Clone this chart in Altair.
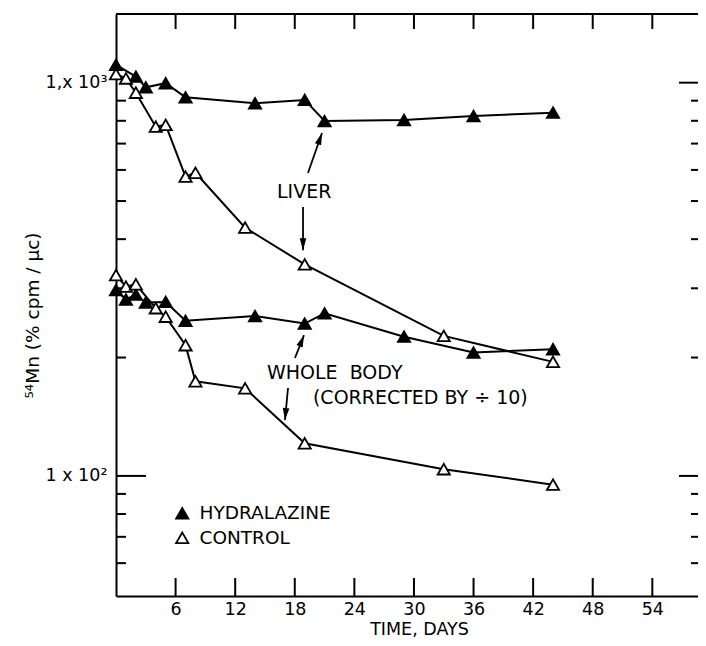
import math
import altair as alt
import pandas as pd

# ---------------- data ----------------
# Liver, hydralazine (filled triangles)
liver_h_days = [0, 2, 3, 5, 7, 14, 19, 21, 29, 36, 44]
liver_h_vals = [1110, 1036, 973, 997, 918, 886, 904, 799, 804, 823, 839]
# Liver, control (open triangles)
liver_c_days = [0, 1, 2, 4, 5, 7, 8, 13, 19, 33, 44]
liver_c_vals = [1052, 1025, 943, 773, 781, 577, 590, 428, 345, 227, 195]
# Whole body (corrected by /10), hydralazine
wb_h_days = [0, 1, 2, 3, 5, 7, 14, 19, 21, 29, 36, 44]
wb_h_vals = [297, 281, 289, 276, 277, 248, 255, 244, 259, 226, 206, 210]
# Whole body (corrected by /10), control
wb_c_days = [0, 1, 2, 4, 5, 7, 8, 13, 19, 33, 44]
wb_c_vals = [324, 303, 307, 267, 254, 215, 174, 167, 121, 104, 95]

GROUPS = ["HYDRALAZINE", "CONTROL"]

x_tick_vals = [6, 12, 18, 24, 30, 36, 42, 48, 54]
y_minor_vals = [60, 70, 80, 90, 200, 300, 400, 500, 600, 700, 800, 900]
y_major_vals = [100, 1000]
y_left_major_vals = [100]

# annotations (data coordinates)
ann_text = ["LIVER", "WHOLE\u00a0\u00a0BODY", "(CORRECTED BY \u00f7 10)"]
ann_day = [16.21, 15.2, 19.83]
ann_val = [527, 182.6, 157.8]

arr_tail_day = [19.33, 18.83, 18.02, 17.32]
arr_tail_val = [589, 483, 199.5, 167.3]
arr_head_day = [20.74, 18.83, 18.93, 17.01]
arr_head_val = [745, 375, 228, 138.7]

# ---------------- layout ----------------
W, H = 582, 582
X_DOM = [0, 58.6]
Y_DOM = [49.5, 1495]
FONT = "DejaVu Sans"

xs = alt.Scale(domain=X_DOM, nice=False, zero=False)
ys = alt.Scale(type="log", domain=Y_DOM, nice=False)

AX_X = alt.Axis(
    values=x_tick_vals, title="TIME, DAYS", ticks=False, grid=False,
    domain=True, domainColor="black", domainWidth=2,
    labelFont=FONT, labelFontSize=17.5, labelColor="black",
    labelPadding=4, labelFlush=False, labelOverlap=False,
    titleFont=FONT, titleFontSize=17.5, titleFontWeight="normal", titleColor="black",
    titleX=303, titleY=33, titleBaseline="middle", titleAlign="center")
AX_Y = alt.Axis(
    values=y_major_vals, title="\u2075\u2074Mn (% cpm / \u03bcc)",
    labelExpr="datum.value >= 1000 ? '1,x 10\u00b3' : '1 x 10\u00b2'",
    ticks=False, grid=False, domain=True, domainColor="black", domainWidth=2,
    labelFont=FONT, labelFontSize=17.5, labelColor="black",
    labelAlign="left", labelPadding=71,
    labelBaseline="middle", labelFlush=False, labelOverlap=False,
    titleFont=FONT, titleFontSize=18.5, titleFontWeight="normal", titleColor="black",
    titleX=-84, titleY=301, titleBaseline="middle", titleAlign="center",
    titleAngle=270)

rows = []
def add(curve, group, days, vals):
    for d, v in zip(days, vals):
        rows.append({"curve": curve, "group": group, "day": d, "value": v,
                     "ord": 0 if group == "HYDRALAZINE" else 1})

add("liver", "HYDRALAZINE", liver_h_days, liver_h_vals)
add("wb", "HYDRALAZINE", wb_h_days, wb_h_vals)
add("liver", "CONTROL", liver_c_days, liver_c_vals)
add("wb", "CONTROL", wb_c_days, wb_c_vals)
df = pd.DataFrame(rows)
df["series"] = df["curve"] + "-" + df["group"]

# pixel helpers for arrow-head orientation
def px(d):
    return (d - X_DOM[0]) / (X_DOM[1] - X_DOM[0]) * W

def py(v):
    lo, hi = math.log10(Y_DOM[0]), math.log10(Y_DOM[1])
    return (hi - math.log10(v)) / (hi - lo) * H

angles = []
for td, tv, hd, hv in zip(arr_tail_day, arr_tail_val, arr_head_day, arr_head_val):
    dx = px(hd) - px(td)
    dy = py(hv) - py(tv)
    angles.append(math.degrees(math.atan2(dx, -dy)) % 360)

arr_df = pd.DataFrame({"d": arr_tail_day, "v": arr_tail_val,
                       "d2": arr_head_day, "v2": arr_head_val, "ang": angles})
ann_df = pd.DataFrame({"d": ann_day, "v": ann_val, "t": ann_text})

def X(field):
    return alt.X(field, scale=xs, axis=AX_X)

def Y(field):
    return alt.Y(field, scale=ys, axis=AX_Y)

# ---------------- layers ----------------
lines = alt.Chart(df).mark_line(color="black", strokeWidth=2).encode(
    x=X("day:Q"), y=Y("value:Q"), detail="series:N", order="day:Q")

xt = pd.DataFrame({"t": x_tick_vals})
bottom_ticks = alt.Chart(xt).mark_rule(color="black", strokeWidth=2).encode(
    x=X("t:Q"), y=alt.value(H), y2=alt.value(H - 18))
top_ticks = alt.Chart(xt).mark_rule(color="black", strokeWidth=2).encode(
    x=X("t:Q"), y=alt.value(0), y2=alt.value(15))
top_frame = alt.Chart(pd.DataFrame({"t": [X_DOM[0]], "t2": [X_DOM[1]]})).mark_rule(
    color="black", strokeWidth=2).encode(x=X("t:Q"), x2="t2:Q", y=alt.value(0))

ym = pd.DataFrame({"v": y_minor_vals})
left_minor = alt.Chart(ym).mark_rule(color="black", strokeWidth=2).encode(
    y=Y("v:Q"), x=alt.value(0), x2=alt.value(10))
right_minor = alt.Chart(ym).mark_rule(color="black", strokeWidth=2).encode(
    y=Y("v:Q"), x=alt.value(W - 7), x2=alt.value(W))
left_major = alt.Chart(pd.DataFrame({"v": y_left_major_vals})).mark_rule(
    color="black", strokeWidth=2).encode(y=Y("v:Q"), x=alt.value(0), x2=alt.value(30))
right_major = alt.Chart(pd.DataFrame({"v": y_major_vals})).mark_rule(
    color="black", strokeWidth=2).encode(y=Y("v:Q"), x=alt.value(W - 19), x2=alt.value(W))

arrows = alt.Chart(arr_df).mark_rule(color="black", strokeWidth=1.8).encode(
    x=X("d:Q"), y=Y("v:Q"), x2="d2:Q", y2="v2:Q")
heads = alt.Chart(arr_df).mark_point(
    shape="M0,0L-0.55,2L0.55,2Z", filled=True, color="black", size=144, opacity=1
).encode(x=X("d2:Q"), y=Y("v2:Q"), angle=alt.Angle("ang:Q", scale=None))

points = alt.Chart(df).mark_point(
    shape="triangle-up", filled=True, size=150, stroke="black",
    strokeWidth=1.8, opacity=1
).encode(
    x=X("day:Q"), y=Y("value:Q"),
    fill=alt.Fill("group:N", scale=alt.Scale(domain=GROUPS, range=["black", "white"]),
                  legend=alt.Legend(title=None, orient="none", legendX=57, legendY=490,
                                    symbolType="triangle-up", symbolSize=150,
                                    symbolStrokeColor="black", symbolStrokeWidth=1.8,
                                    symbolOpacity=1, labelFont=FONT, labelFontSize=18.5,
                                    labelColor="black", labelOffset=8, rowPadding=5.5,
                                    padding=0)),
    order=alt.Order("ord:Q"),
)

texts = alt.Chart(ann_df).mark_text(
    align="left", baseline="middle", font=FONT, fontSize=19, color="black"
).encode(x=X("d:Q"), y=Y("v:Q"), text="t:N")

chart = alt.layer(
    lines, bottom_ticks, top_ticks, top_frame, left_minor, right_minor, left_major,
    right_major, arrows, heads, points, texts
).properties(
    width=W, height=H,
    autosize=alt.AutoSizeParams(type="none"),
    padding={"left": 108, "top": 6, "right": 0, "bottom": 42},
    background="white",
).configure_view(
    strokeWidth=0
)

chart.save("out.html", embed_options={"renderer": "svg", "actions": False})
